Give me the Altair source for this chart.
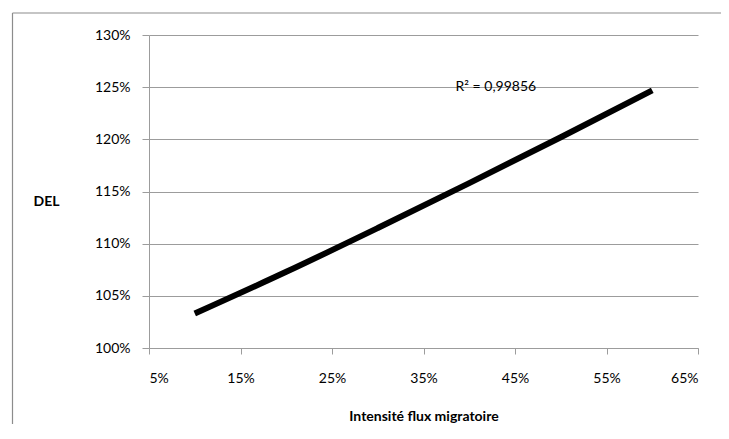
import altair as alt
import pandas as pd

# ---- data ----
intensite = [0.10, 0.20, 0.30, 0.40, 0.50, 0.60]
del_values = [1.033, 1.073, 1.115, 1.158, 1.202, 1.247]
x_ticks = [0.05, 0.15, 0.25, 0.35, 0.45, 0.55, 0.65]
y_ticks = [1.00, 1.05, 1.10, 1.15, 1.20, 1.25, 1.30]
r2_text = ["R² = 0,99856"]
r2_x = [0.385]
r2_y = [1.25]

df = pd.DataFrame({"x": intensite, "y": del_values})
df_r2 = pd.DataFrame({"x": r2_x, "y": r2_y, "t": r2_text})
df_one = pd.DataFrame({"a": [0]})

W, H = 549, 313
FONT = "Lato"
GRAY = "#9c9c9c"

x_scale = alt.Scale(domain=[0.05, 0.65], nice=False, zero=False)
y_scale = alt.Scale(domain=[1.0, 1.3], nice=False, zero=False)

line = alt.Chart(df).mark_line(color="black", strokeWidth=6, strokeCap="butt",
                               interpolate="monotone").encode(
    x=alt.X("x:Q", scale=x_scale,
            axis=alt.Axis(values=x_ticks, format=".0%", title="Intensité flux migratoire",
                          grid=False, tickSize=6, labelPadding=17, domainColor=GRAY,
                          tickColor=GRAY, labelFont=FONT, labelFontSize=14, labelColor="black",
                          titleFont=FONT, titleFontSize=14, titleFontWeight="bold",
                          titleColor="black", titleY=68, titleBaseline="middle")),
    y=alt.Y("y:Q", scale=y_scale,
            axis=alt.Axis(values=y_ticks, format=".0%", title="DEL", titleAngle=0,
                          grid=True, gridColor=GRAY, tickSize=7, labelPadding=12,
                          domainColor=GRAY, tickColor=GRAY, labelFont=FONT,
                          labelFontSize=14, labelColor="black", titleFont=FONT,
                          titleFontSize=14, titleFontWeight="bold", titleColor="black",
                          titleAlign="center", titleBaseline="middle",
                          titleX=-103, titleY=166)),
)

r2 = alt.Chart(df_r2).mark_text(align="left", baseline="middle", font=FONT,
                                fontSize=14, color="black").encode(
    x=alt.X("x:Q", scale=x_scale), y=alt.Y("y:Q", scale=y_scale), text="t:N")

border_top = alt.Chart(df_one).mark_rule(stroke="#8c8c8c", strokeWidth=1.2, clip=False).encode(
    x=alt.value(-136.5), x2=alt.value(W + 23), y=alt.value(-22))
border_left = alt.Chart(df_one).mark_rule(stroke="#8c8c8c", strokeWidth=1.2, clip=False).encode(
    x=alt.value(-136.5), y=alt.value(-22), y2=alt.value(H + 76))

chart = alt.layer(border_top, border_left, line, r2).properties(
    width=W, height=H,
    autosize=alt.AutoSizeParams(type="none"),
    padding={"left": 141, "top": 27, "right": 23, "bottom": 76},
).configure_view(stroke=None)

chart.save("out.html", embed_options={"renderer": "svg", "actions": False})
